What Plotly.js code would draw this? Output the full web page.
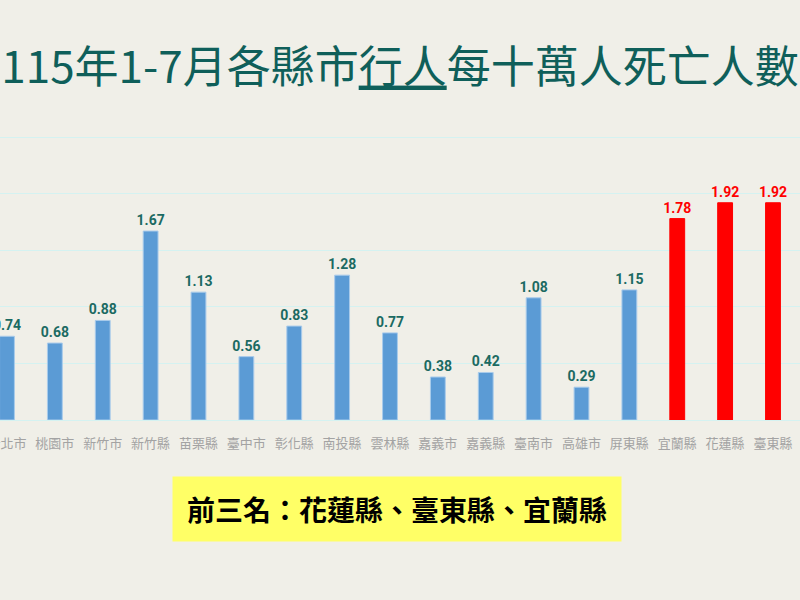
<!DOCTYPE html>
<html>
<head>
<meta charset="utf-8">
<script src="https://cdn.plot.ly/plotly-3.0.1.min.js"></script>
<style>
  html, body { margin: 0; padding: 0; background: #f0efe8; }
  #chart { width: 800px; height: 600px; }
</style>
</head>
<body>
<div id="chart"></div>
<script>
// 各縣市行人每十萬人死亡人數 (115年1-7月)
const counties = ['新北市','桃園市','新竹市','新竹縣','苗栗縣','臺中市','彰化縣','南投縣','雲林縣',
                  '嘉義市','嘉義縣','臺南市','高雄市','屏東縣','宜蘭縣','花蓮縣','臺東縣'];
const deathRate = [0.74,0.68,0.88,1.67,1.13,0.56,0.83,1.28,0.77,0.38,0.42,1.08,0.29,1.15,1.78,1.92,1.92];
const topThree = ['宜蘭縣','花蓮縣','臺東縣'];

const BLUE = '#5b9bd5', RED = '#ff0000', TEAL = '#0f5f5a';

const barColors = counties.map(c => topThree.includes(c) ? RED : BLUE);
const lineColors = counties.map(c => topThree.includes(c) ? RED : '#a9cbeb');
const labelColors = counties.map(c => topThree.includes(c) ? RED : '#1b6a62');

const trace = {
  type: 'bar',
  x: counties,
  y: deathRate,
  marker: { color: barColors, line: { color: lineColors, width: 1 } },
  texttemplate: '%{y:.2f}',
  textposition: 'outside',
  constraintext: 'none',
  textfont: { family: 'Roboto, sans-serif', size: 14, weight: 'bold', color: labelColors },
  cliponaxis: false,
  hoverinfo: 'x+y'
};

const layout = {
  width: 800,
  height: 600,
  paper_bgcolor: '#f0efe8',
  plot_bgcolor: '#f0efe8',
  margin: { l: 0, r: 0, t: 136, b: 180 },
  showlegend: false,
  bargap: 0.69,
  title: {
    text: '115年1-7月各縣市<u>行人</u>每十萬人死亡人數',
    font: { family: '"Noto Sans CJK TC", sans-serif', size: 44, color: TEAL },
    x: 0.5, xanchor: 'center',
    y: 0.888, yanchor: 'middle'
  },
  xaxis: {
    type: 'category',
    range: [-0.146, 16.564],
    showgrid: false,
    showline: false,
    ticks: '',
    ticklabelstandoff: 14,
    tickfont: { family: '"Noto Sans CJK TC", sans-serif', size: 13, color: '#a3a3a3' },
    fixedrange: true
  },
  yaxis: {
    range: [0, 2.51],
    dtick: 0.5,
    showticklabels: false,
    gridcolor: '#d4f2f1',
    gridwidth: 1,
    zeroline: true,
    zerolinecolor: '#d4f2f1',
    zerolinewidth: 1,
    fixedrange: true
  },
  annotations: [{
    xref: 'paper', yref: 'paper',
    x: 0.496, y: -0.3134,
    xanchor: 'center', yanchor: 'middle',
    text: '<b>前三名：花蓮縣、臺東縣、宜蘭縣</b>',
    font: { family: '"Noto Sans CJK TC", sans-serif', size: 28, color: '#000000' },
    bgcolor: '#ffff66',
    width: 448,
    height: 64,
    borderpad: 0,
    showarrow: false
  }]
};

Plotly.newPlot('chart', [trace], layout, { displayModeBar: false, staticPlot: true });
</script>
</body>
</html>
